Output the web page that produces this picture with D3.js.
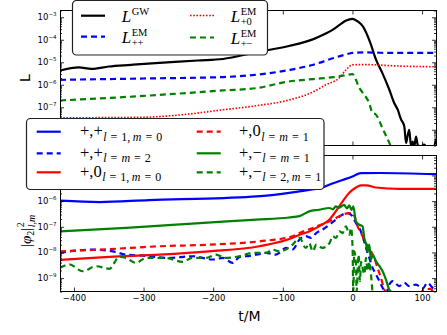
<!DOCTYPE html>
<html>
<head>
<meta charset="utf-8">
<script src="https://cdn.jsdelivr.net/npm/d3@7/dist/d3.min.js"></script>
<style>
  body { margin: 0; background: #fff; }
  svg { display: block; }
  .lbl { font-family: "DejaVu Sans", sans-serif; }
  .math { font-family: "Liberation Serif", "DejaVu Serif", serif; }
</style>
</head>
<body>
<svg id="chart" width="447" height="335"></svg>
<script>
// ---- values ----
const xTicks = [-400, -300, -200, -100, 0, 100];
const topExponents = [-3, -4, -5, -6, -7, -8];
const bottomExponents = [-5, -6, -7, -8, -9];

// top panel, luminosities: [t/M, L]
const lumGW = [[-420,4.3e-6],[-393,5.9e-6],[-375,5.1e-6],[-350,6.5e-6],[-318,7.7e-6],[-283,9.2e-6],[-255,1.04e-5],[-222,1.2e-5],[-186,1.4e-5],[-138,2.8e-5],[-90,5.4e-5],[-56,1.07e-4],[-42,1.66e-4],[-27,2.96e-4],[-18,4.7e-4],[-9,7.2e-4],[0,8.5e-4],[8,6.4e-4],[15,3.9e-4],[25,8.3e-5],[34,1.28e-5],[43,3.3e-6],[53,6e-7],[60,1.55e-7],[65,7.8e-8],[70,2.8e-8],[72,2.2e-8],[74.5,1.4e-8],[77,2.6e-9],[79,5e-9],[81.6,1e-8],[84,2e-9],[86.5,3e-9],[88.5,1.6e-9],[91.3,5e-9],[94,2e-9],[98,1.8e-9],[103,2.2e-9],[108,1.5e-9],[112,1.9e-9],[116,1.6e-9],[120,4e-9]];
const lumPP = [[-420,1.66e-6],[-300,1.9e-6],[-186,2.2e-6],[-138,2.8e-6],[-90,4.6e-6],[-56,7.8e-6],[-27,1.55e-5],[-10,2.2e-5],[0,2.6e-5],[15,2.75e-5],[40,2.65e-5],[80,2.6e-5],[120,2.6e-5]];
const lumP0 = [[-420,3.4e-8],[-300,3.6e-8],[-250,4.5e-8],[-186,7.7e-8],[-138,1.17e-7],[-91,2.1e-7],[-56,4.9e-7],[-38,1e-6],[-19,2e-6],[-9,4.7e-6],[0,7.7e-6],[17,7.9e-6],[67,6.8e-6],[120,6.3e-6]];
const lumPM = [[-420,2e-7],[-300,3.2e-7],[-186,5.6e-7],[-138,7.1e-7],[-91,1.4e-6],[-56,1.8e-6],[-27,2.2e-6],[-9,2.7e-6],[0,3e-6],[10,7.1e-7],[15,4.3e-7],[24,1.55e-7],[29,5.5e-8],[33,5e-8],[39,2.3e-8],[43,1.2e-8],[50,4.2e-9],[56,1.6e-9]];

// bottom panel, |phi2|^2 per mode: [t/M, value]
const phiPP10 = [[-420,1.04e-6],[-363,9.2e-7],[-292,1.1e-6],[-185,1.32e-6],[-138,1.52e-6],[-91,2.1e-6],[-76,2.4e-6],[-56,2.9e-6],[-43,3.4e-6],[-28,5e-6],[-14,6.7e-6],[0,9.1e-6],[12,1.24e-5],[40,1.25e-5],[120,1.12e-5]];
const phiPP22 = [[-420,9.6e-9],[-373,1.29e-8],[-344,1.1e-8],[-325,8.2e-9],[-301,7.5e-9],[-263,6.1e-9],[-230,7.1e-9],[-201,5.3e-9],[-186,6.1e-9],[-172,3.9e-9],[-162,6.7e-9],[-153,7.1e-9],[-138,8.2e-9],[-124,9.6e-9],[-110,8.2e-9],[-95,1.5e-8],[-86,1.3e-8],[-76,3.2e-8],[-67,4.3e-8],[-59.5,3.7e-8],[-52,5.7e-8],[-43,7.8e-8],[-33,1.2e-7],[-24,1.9e-7],[-14,3e-7],[-7,3.4e-7],[0,2.6e-7],[5,1.4e-7],[10,9e-8],[14.6,4.3e-8],[19.5,1.5e-8],[24.2,6.1e-9],[29,2.5e-9],[33.8,1.4e-9],[38.6,7.6e-10],[43.3,4.2e-10],[48,2.5e-10],[53,5.6e-10],[57.7,7.6e-10],[67.3,4.9e-10],[74.5,6.5e-10],[81.6,4.9e-10],[91.3,5.6e-10],[100.7,3.9e-10],[107.9,6.5e-10],[115.1,4.2e-10],[120,3.8e-10]];
const phiP010 = [[-420,5.1e-9],[-349,6.7e-9],[-277,8.2e-9],[-206,1.1e-8],[-134,1.74e-8],[-86,3.7e-8],[-76,4.9e-8],[-62,6.6e-8],[-48,1.04e-7],[-33,1.9e-7],[-24,4e-7],[-14,9.8e-7],[-4.5,2.1e-6],[5,3.4e-6],[12,4.1e-6],[20,4.1e-6],[34,3.4e-6],[67,3e-6],[120,3e-6]];
const phiP011 = [[-420,1.1e-8],[-349,1.35e-8],[-277,1.74e-8],[-206,2e-8],[-134,2.7e-8],[-86,4.3e-8],[-76,5.7e-8],[-57,9e-8],[-28,1.9e-7],[-14,3e-7],[-4.5,3.4e-7],[1,3.2e-7],[7.4,1.04e-7],[12.3,5.7e-8],[19.5,2.3e-8],[26.6,1.1e-8],[31.4,6.1e-9],[36.1,2.5e-9],[41,1e-9],[45.8,3.6e-10],[50,2.2e-10],[95,2.2e-10],[103,3.6e-10],[112,3.8e-10],[118,2.2e-10]];
const phiPM11 = [[-420,6.6e-8],[-325,9e-8],[-253,1.21e-7],[-186,1.6e-7],[-138,1.9e-7],[-91,2.3e-7],[-76,2.6e-7],[-62,4e-7],[-48,4.6e-7],[-33,5.4e-7],[-28,4.8e-7],[-24,6.2e-7],[-19,5.6e-7],[-12,7.2e-7],[-8,5.2e-7],[-4.5,6.8e-7],[-1.5,4.5e-7],[1.2,6.2e-7],[5,1.6e-7],[9.8,1.2e-7],[14.6,1.04e-7],[17,3.7e-8],[19.5,2.2e-8],[21.8,1.1e-8],[24.2,2e-8],[26.6,5.2e-9],[29,8e-9],[33.8,4.5e-9],[38.6,3e-9],[43.3,1.85e-9],[48.2,8.7e-10],[53,3.5e-10],[60,2.5e-10]];
const phiPM21 = [[-420,2.5e-9],[-406.6,3.4e-9],[-387.5,1.85e-9],[-368,2.9e-9],[-349,2.3e-9],[-335,6.7e-9],[-325,6.1e-9],[-311,3.9e-9],[-296.5,6.1e-9],[-268,6.1e-9],[-244,4.3e-9],[-230,6.1e-9],[-210,6.1e-9],[-196,8.2e-9],[-182,6.1e-9],[-162.5,7.1e-9],[-143,9.6e-9],[-124,9.6e-9],[-115,1.29e-8],[-105,1.1e-8],[-86,2e-8],[-76,3.7e-8],[-67,1.5e-8],[-62,2.3e-8],[-57,1.1e-8],[-52,2e-8],[-43,1.5e-8],[-33,2.3e-8],[-28.4,4.3e-8],[-23.6,3.7e-8],[-18.8,6.6e-8],[-14.1,5.7e-8],[-9.3,1.04e-7],[-4.5,4.9e-8],[-2,9e-8],[0.2,1.5e-8],[1.2,3e-10],[2.6,1.1e-8],[5.1,3.4e-9],[6,3e-10],[8.8,8.2e-9],[10.8,7.6e-10],[12.3,4.3e-9],[17,1.4e-9],[19.5,6.1e-9],[21.8,1.85e-9],[24.2,4.3e-9],[26.6,1.4e-9],[29,3e-10],[35,2e-10]];

// ---- layout ----
const svg = d3.select('#chart');
const X0 = 60, X1 = 436;
const x = d3.scaleLinear().domain([-420, 120]).range([X0, X1]);
const yTop = d3.scaleLog().domain([2e-9, 2e-3]).range([145.5, 10.5]);
const yBot = d3.scaleLog().domain([3e-10, 6e-5]).range([291.5, 155.5]);

const SOLID = null, DASH = '6,4', DOT = '1.6,1.6';
const blue = '#0000ff', red = '#ff0000', green = '#008000';

const topSeries = [
  {data: lumGW, color: '#000', width: 2.2, dash: SOLID},
  {data: lumPP, color: blue, width: 2.2, dash: DASH},
  {data: lumP0, color: red, width: 1.6, dash: DOT},
  {data: lumPM, color: green, width: 2.2, dash: DASH}
];
const bottomSeries = [
  {data: phiPP10, color: blue, width: 2.2, dash: SOLID},
  {data: phiPP22, color: blue, width: 2.2, dash: DASH},
  {data: phiP010, color: red, width: 2.2, dash: SOLID},
  {data: phiP011, color: red, width: 2.2, dash: DASH},
  {data: phiPM11, color: green, width: 2.2, dash: SOLID},
  {data: phiPM21, color: green, width: 2.2, dash: DASH}
];

const defs = svg.append('defs');

function drawPanel(yScale, series, exps, showXLabels, id) {
  const [yb, yt] = yScale.range();
  defs.append('clipPath').attr('id', id).append('rect')
    .attr('x', X0).attr('y', yt).attr('width', X1 - X0).attr('height', yb - yt);

  const line = d3.line()
    .x(d => x(d[0]))
    .y(d => yScale(d[1]))
    .curve(d3.curveMonotoneX);

  svg.append('g').attr('clip-path', `url(#${id})`)
    .selectAll('path').data(series).join('path')
      .attr('d', d => line(d.data))
      .attr('fill', 'none')
      .attr('stroke', d => d.color)
      .attr('stroke-width', d => d.width)
      .attr('stroke-dasharray', d => d.dash);

  // log ticks: majors at decades, minors at 2..9
  const [lo, hi] = yScale.domain();
  const majors = exps.map(e => Math.pow(10, e));
  const minors = [];
  for (let e = Math.floor(Math.log10(lo)); e <= Math.ceil(Math.log10(hi)); e++) {
    for (let k = 2; k <= 9; k++) {
      const v = k * Math.pow(10, e);
      if (v >= lo && v <= hi) minors.push(v);
    }
  }

  const axes = svg.append('g');
  const noDomain = a => a.select('.domain').remove();
  axes.append('g').attr('transform', `translate(${X0},0)`)
    .call(d3.axisLeft(yScale).tickValues(majors).tickSize(-4).tickFormat('')).call(noDomain);
  axes.append('g').attr('transform', `translate(${X0},0)`)
    .call(d3.axisLeft(yScale).tickValues(minors).tickSize(-2).tickFormat('')).call(noDomain);
  axes.append('g').attr('transform', `translate(${X1},0)`)
    .call(d3.axisRight(yScale).tickValues(majors).tickSize(-4).tickFormat('')).call(noDomain);
  axes.append('g').attr('transform', `translate(${X1},0)`)
    .call(d3.axisRight(yScale).tickValues(minors).tickSize(-2).tickFormat('')).call(noDomain);
  axes.append('g').attr('transform', `translate(0,${yt})`)
    .call(d3.axisTop(x).tickValues(xTicks).tickSize(-4).tickFormat('')).call(noDomain);
  const bottom = axes.append('g').attr('transform', `translate(0,${yb})`)
    .call(d3.axisBottom(x).tickValues(xTicks).tickSize(-4).tickPadding(3.5)
      .tickFormat(showXLabels ? d3.format('d') : ''))
    .call(noDomain);
  bottom.selectAll('text').attr('class', 'lbl').attr('font-size', 8.5)
    .attr('font-family', null).attr('fill', '#000');
  axes.selectAll('line').attr('stroke-width', 0.8);

  // decade labels like 10^-6
  exps.forEach(e => {
    const t = svg.append('text').attr('class', 'lbl')
      .attr('x', X0 - 3.5).attr('y', yScale(Math.pow(10, e)) + 3)
      .attr('text-anchor', 'end').attr('font-size', 8.5);
    t.append('tspan').text('10');
    t.append('tspan').attr('font-size', 5.5).attr('dy', -4).text('\u2212' + Math.abs(e));
  });

  svg.append('rect')
    .attr('x', X0 + 0.5).attr('y', yt).attr('width', X1 - X0).attr('height', yb - yt)
    .attr('fill', 'none').attr('stroke', '#000').attr('stroke-width', 1);
}

drawPanel(yTop, topSeries, topExponents, false, 'clipTop');
drawPanel(yBot, bottomSeries, bottomExponents, true, 'clipBot');

// axis titles
svg.append('text').attr('class', 'lbl').attr('font-size', 14)
  .attr('text-anchor', 'middle').attr('x', 249.5).attr('y', 320.5).text('t/M');
svg.append('text').attr('class', 'lbl').attr('font-size', 14)
  .attr('text-anchor', 'middle').attr('transform', 'translate(30,78) rotate(-90)').text('L');

function scriptText(parent, x0, y0, pieces, size) {
  const t = parent.append('text').attr('class', 'math')
    .attr('x', x0).attr('y', y0).attr('font-size', size);
  pieces.forEach(p => t.append('tspan').attr('font-style', p[1] ? 'italic' : 'normal').text(p[0]));
  return t.node().getComputedTextLength();
}

function mathLabel(parent, x0, y0, base, sup, sub, size, ss, supDy, subDy) {
  const w = scriptText(parent, x0, y0, base, size);
  const xs = x0 + w + 0.5;
  if (sup) scriptText(parent, xs, y0 + supDy, sup, ss);
  if (sub) scriptText(parent, xs, y0 + subDy, sub, ss);
}

// |phi_2|^2_{l,m}
const yl = svg.append('g').attr('transform', 'translate(31,247) rotate(-90)');
let cx = 0;
cx += scriptText(yl, cx, 0, [['|', 0], ['\u03c6', 1]], 15);
cx += scriptText(yl, cx, 3, [['2', 0]], 10);
cx += scriptText(yl, cx, 0, [['|', 0]], 15) + 0.5;
scriptText(yl, cx, -7, [['2', 0]], 10);
scriptText(yl, cx, 4, [['l', 1], [',', 0], ['m', 1]], 10);

// ---- legends ----
function legendBox(x0, y0, w, h) {
  svg.append('rect').attr('x', x0).attr('y', y0).attr('width', w).attr('height', h)
    .attr('rx', 4).attr('fill', '#fff').attr('stroke', '#222').attr('stroke-width', 1.2);
}
function legendLine(s, x1, x2, y) {
  svg.append('line').attr('x1', x1).attr('x2', x2).attr('y1', y).attr('y2', y)
    .attr('stroke', s.color).attr('stroke-width', s.width).attr('stroke-dasharray', s.dash);
}

const sp = '\u2004', th = '\u2009';
const topLegend = [
  {s: topSeries[0], lx: 81, tx: 121.7, y: 15.7, sup: [['GW', 0]], sub: null},
  {s: topSeries[1], lx: 81, tx: 121.7, y: 36.7, sup: [['EM', 0]], sub: [['++', 0]]},
  {s: topSeries[2], lx: 190, tx: 230.7, y: 15.5, sup: [['EM', 0]], sub: [['+0', 0]]},
  {s: topSeries[3], lx: 190, tx: 230.7, y: 37.5, sup: [['EM', 0]], sub: [['+\u2212', 0]]}
];
legendBox(72.5, 0.5, 195, 54.5);
topLegend.forEach(d => {
  legendLine(d.s, d.lx, d.lx + 24, d.y);
  mathLabel(svg, d.tx, d.y + 6, [['L', 1]], d.sup, d.sub, 17, 10.5, -7, 3.5);
});

const bottomLegend = [
  {s: bottomSeries[0], lx: 36.7, tx: 80, y: 131.7, base: '+,+', sub: [['l', 1], [sp + '=' + sp + '1,' + th, 0], ['m', 1], [sp + '=' + sp + '0', 0]]},
  {s: bottomSeries[1], lx: 36.7, tx: 80, y: 153.3, base: '+,+', sub: [['l', 1], [sp + '=' + sp, 0], ['m', 1], [sp + '=' + sp + '2', 0]]},
  {s: bottomSeries[2], lx: 36.7, tx: 80, y: 172.3, base: '+,0', sub: [['l', 1], [sp + '=' + sp + '1,' + th, 0], ['m', 1], [sp + '=' + sp + '0', 0]]},
  {s: bottomSeries[3], lx: 196.7, tx: 239, y: 131.7, base: '+,0', sub: [['l', 1], [sp + '=' + sp, 0], ['m', 1], [sp + '=' + sp + '1', 0]]},
  {s: bottomSeries[4], lx: 196.7, tx: 239, y: 153.3, base: '+,\u2212', sub: [['l', 1], [sp + '=' + sp, 0], ['m', 1], [sp + '=' + sp + '1', 0]]},
  {s: bottomSeries[5], lx: 196.7, tx: 239, y: 172.3, base: '+,\u2212', sub: [['l', 1], [sp + '=' + sp + '2,' + th, 0], ['m', 1], [sp + '=' + sp + '1', 0]]}
];
legendBox(26.5, 118.5, 297.5, 71);
bottomLegend.forEach(d => {
  legendLine(d.s, d.lx, d.lx + 24, d.y);
  mathLabel(svg, d.tx, d.y + 4.5, [[d.base, 0]], null, d.sub, 16.5, 12, 0, 4.5);
});
</script>
</body>
</html>
